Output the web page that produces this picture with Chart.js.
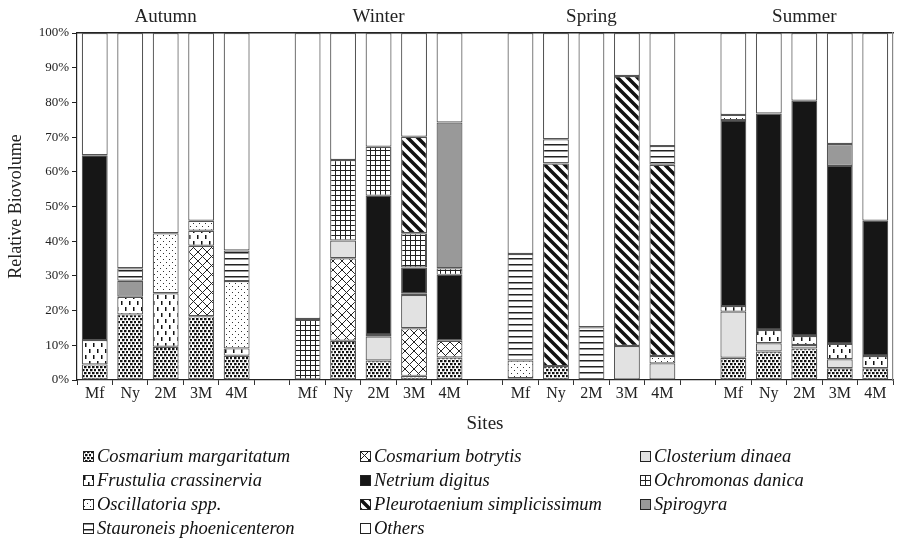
<!DOCTYPE html>
<html>
<head>
<meta charset="utf-8">
<script src="https://cdn.jsdelivr.net/npm/chart.js@4/dist/chart.umd.min.js"></script>
<style>
html,body{margin:0;padding:0;background:#fff;}
#wrap{position:relative;width:897px;height:540px;}
#c{position:absolute;left:0;top:0;}
#legend{position:absolute;left:0;top:445px;width:897px;font-family:"Liberation Serif","Times New Roman",serif;font-style:italic;font-size:18.5px;color:#111;}
.item{position:absolute;display:flex;align-items:center;height:22px;white-space:nowrap;}
.item canvas{margin-right:3px;}
</style>
</head>
<body>
<div id="wrap">
<canvas id="c" width="897" height="540"></canvas>
<div id="legend"></div>
</div>
<script>
// ---- data (percent of relative biovolume) ----
const sites = ['Mf','Ny','2M','3M','4M'];
const seasons = ['Autumn','Winter','Spring','Summer'];
// each array: Autumn Mf..4M, Winter Mf..4M, Spring Mf..4M, Summer Mf..4M
const cosmariumMargaritatum = [4.5,18.9,9.6,18.4,7.0,  0,11.3,5.6,1.2,6.5,  0.5,4.0,0,0,0,  6.4,8.2,9.1,3.4,3.4];
const cosmariumBotrytis     = [0,0,0,20.3,0,  0,23.8,0,13.7,4.8,  0,0,0,0,0,  0,0,0,0,0];
const closteriumDinaea      = [0,0,0,0,0,  0,5.1,6.9,9.6,0,  0,0,0,9.8,4.8,  13.3,2.4,1.0,2.6,0];
const frustuliaCrassinervia = [7.0,5.1,15.4,4.3,2.1,  0,0,0.5,0.5,0,  0,0,0,0,0,  1.6,3.8,2.6,4.4,3.5];
const netriumDigitus        = [53.3,0,0,0,0,  0,0,40.1,7.4,19.0,  0,0,0,0,0,  53.6,62.4,67.8,51.3,39.0];
const ochromonasDanica      = [0,0,0,0,0,  17.6,23.2,14.1,9.9,1.9,  0,0,0,0,0,  0,0,0,0,0];
const oscillatoriaSpp       = [0,0,17.3,2.9,19.4,  0,0,0,0,0,  5.1,0,0,0,2.1,  1.5,0,0,0,0];
const pleurotaenium         = [0,0,0,0,0,  0,0,0,27.8,0,  0,58.4,0,77.8,55.1,  0,0,0,0,0];
const spirogyra             = [0,4.6,0,0,0,  0,0,0,0,42.0,  0,0,0,0,0,  0,0,0,6.3,0];
const stauroneis            = [0,3.6,0,0,8.8,  0,0,0,0,0,  30.7,7.0,15.2,0,5.4,  0,0,0,0,0];
const others                = [35.2,67.8,57.7,54.1,62.7,  82.4,36.6,32.8,29.9,25.8,  63.7,30.6,84.8,12.4,32.6,  23.6,23.2,19.5,32.0,54.1];
const yTicks = [0,10,20,30,40,50,60,70,80,90,100];

// ---- build category slots with gaps between seasons ----
const labels = [], seasonLabels = [];
seasons.forEach((s, si) => {
  sites.forEach((st, i) => { labels.push(st); seasonLabels.push(i === 2 ? s : ''); });
  if (si < seasons.length - 1) { labels.push(''); seasonLabels.push(''); }
});
function slots(arr) {
  const out = [];
  seasons.forEach((s, si) => {
    for (let i = 0; i < 5; i++) { const v = arr[si * 5 + i]; out.push(v ? v : null); }
    if (si < seasons.length - 1) out.push(null);
  });
  return out;
}

// ---- patterns ----
function tile(w, h, draw) {
  const c = document.createElement('canvas'); c.width = w; c.height = h;
  const g = c.getContext('2d'); g.fillStyle = '#fff'; g.fillRect(0, 0, w, h); draw(g, w, h); return c;
}
const tiles = {
  marg: tile(8, 6, g => { g.fillStyle = '#111'; [[0,0],[4,0],[2,3],[6,3]].forEach(([x,y]) => g.fillRect(x, y, 2.5, 2.2)); }),
  bot: tile(9, 9, g => { g.strokeStyle = '#222'; g.lineWidth = 1;
    g.beginPath(); g.moveTo(-1,-1); g.lineTo(10,10); g.moveTo(-1,10); g.lineTo(10,-1); g.stroke(); }),
  clos: tile(4, 4, g => { g.fillStyle = '#e2e2e2'; g.fillRect(0,0,4,4); }),
  frus: tile(8, 12, g => { g.fillStyle = '#111'; g.fillRect(1, 1, 1.5, 4); g.fillRect(5, 7, 1.5, 4); }),
  netr: tile(4, 4, g => { g.fillStyle = '#161616'; g.fillRect(0,0,4,4); }),
  och: tile(5, 5, g => { g.fillStyle = '#222'; g.fillRect(0, 0, 5, 1); g.fillRect(0, 0, 1, 5); }),
  osc: tile(6, 6, g => { g.fillStyle = '#333'; g.fillRect(1, 1, 1, 1); g.fillRect(4, 4, 1, 1); }),
  pleu: tile(10, 10, g => { g.strokeStyle = '#111'; g.lineWidth = 3.5;
    g.beginPath(); g.moveTo(-2,-2); g.lineTo(12,12); g.moveTo(-12,-2); g.lineTo(2,12); g.moveTo(8,-2); g.lineTo(22,12); g.stroke(); }),
  spir: tile(4, 4, g => { g.fillStyle = '#999'; g.fillRect(0,0,4,4); }),
  stau: tile(6, 6, g => { g.fillStyle = '#222'; g.fillRect(0, 0, 6, 1.5); }),
  oth: tile(4, 4, g => {})
};

const seriesDefs = [
  ['Cosmarium margaritatum', cosmariumMargaritatum, 'marg'],
  ['Cosmarium botrytis', cosmariumBotrytis, 'bot'],
  ['Closterium dinaea', closteriumDinaea, 'clos'],
  ['Frustulia crassinervia', frustuliaCrassinervia, 'frus'],
  ['Netrium digitus', netriumDigitus, 'netr'],
  ['Ochromonas danica', ochromonasDanica, 'och'],
  ['Oscillatoria spp.', oscillatoriaSpp, 'osc'],
  ['Pleurotaenium simplicissimum', pleurotaenium, 'pleu'],
  ['Spirogyra', spirogyra, 'spir'],
  ['Stauroneis phoenicenteron', stauroneis, 'stau'],
  ['Others', others, 'oth']
];

const canvas = document.getElementById('c');
const ctx = canvas.getContext('2d');
const serif = "'Liberation Serif','Times New Roman',serif";

const datasets = seriesDefs.map(([name, arr, key]) => ({
  label: name,
  data: slots(arr),
  backgroundColor: ctx.createPattern(tiles[key], 'repeat'),
  borderColor: '#555',
  borderWidth: 1.2,
  borderSkipped: false,
  categoryPercentage: 1.0,
  barPercentage: 0.73
}));

new Chart(ctx, {
  type: 'bar',
  data: { labels, datasets },
  options: {
    responsive: false,
    animation: false,
    layout: { padding: { left: 0, right: 4, top: 0, bottom: 100 } },
    plugins: { legend: { display: false }, tooltip: { enabled: false } },
    scales: {
      x: {
        stacked: true,
        offset: true,
        grid: { display: true, drawOnChartArea: false, offset: true, tickLength: 5, color: '#333' },
        border: { color: '#222', width: 1.2 },
        ticks: { autoSkip: false, maxRotation: 0, color: '#222', font: { family: serif, size: 16 }, padding: -1 },
        title: { display: true, text: 'Sites', color: '#222', font: { family: serif, size: 19 }, padding: { top: 2, bottom: 5 } },
        afterFit: s => { s.height = 60; }
      },
      x2: {
        type: 'category',
        labels: seasonLabels,
        position: 'top',
        offset: true,
        grid: { display: false, drawTicks: false },
        border: { display: true, color: '#222', width: 1.5 },
        ticks: { autoSkip: false, maxRotation: 0, color: '#222', font: { family: serif, size: 19 }, padding: 5 },
        afterFit: s => { s.height = 33; }
      },
      y: {
        stacked: true,
        min: 0, max: 100,
        afterBuildTicks: s => { s.ticks = yTicks.map(v => ({ value: v })); },
        grid: { display: true, drawOnChartArea: false, tickLength: 5, color: '#222' },
        border: { color: '#222', width: 1.2 },
        ticks: { color: '#222', font: { family: serif, size: 13 }, padding: 3, callback: v => v + '%' },
        title: { display: true, text: 'Relative Biovolume', color: '#222', font: { family: serif, size: 18 }, padding: { top: 5, bottom: 0 } },
        afterFit: s => { s.width = 77; }
      },
      yR: {
        position: 'right',
        grid: { display: false },
        ticks: { display: false },
        border: { display: true, color: '#888', width: 1.2 },
        afterFit: s => { s.width = 0; }
      }
    }
  }
});

// ---- HTML legend (3 columns, row-major) ----
const legend = document.getElementById('legend');
const colX = [83, 360, 640];
seriesDefs.forEach(([name, arr, key], i) => {
  const row = Math.floor(i / 3), col = i % 3;
  const item = document.createElement('div');
  item.className = 'item';
  item.style.left = colX[col] + 'px';
  item.style.top = (row * 24) + 'px';
  const ic = document.createElement('canvas'); ic.width = 11; ic.height = 11;
  const g = ic.getContext('2d');
  g.fillStyle = g.createPattern(tiles[key], 'repeat'); g.fillRect(0, 0, 11, 11);
  g.strokeStyle = '#222'; g.lineWidth = 1; g.strokeRect(0.5, 0.5, 10, 10);
  const t = document.createElement('span'); t.textContent = name;
  item.appendChild(ic); item.appendChild(t);
  legend.appendChild(item);
});
</script>
</body>
</html>
